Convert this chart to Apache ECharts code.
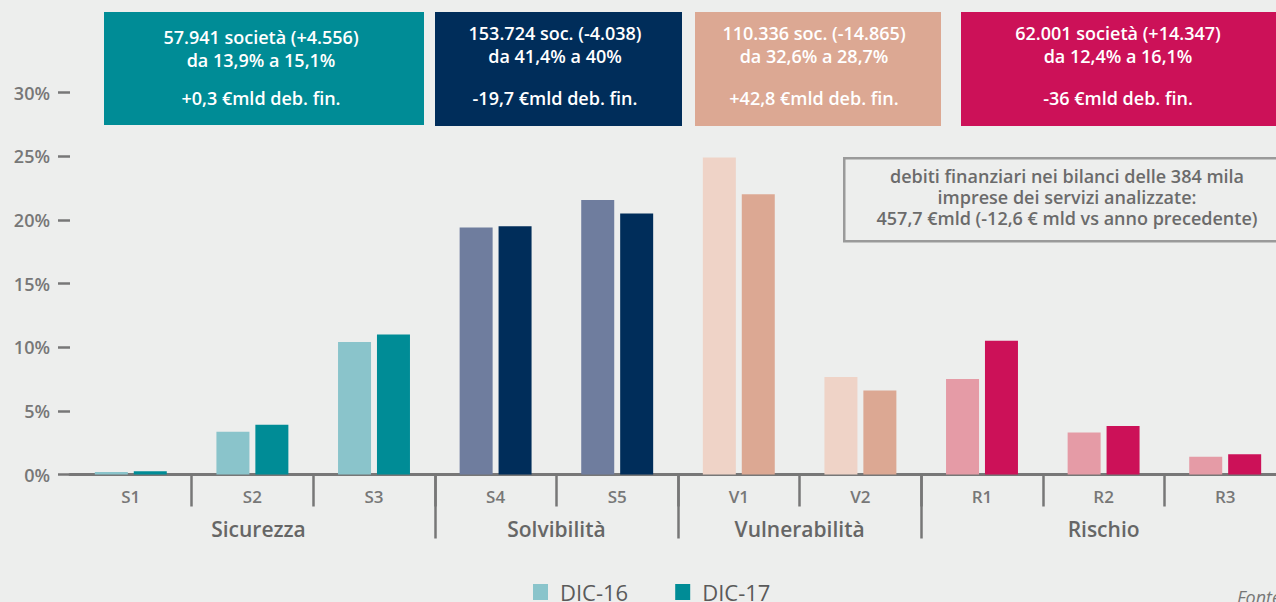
<!DOCTYPE html>
<html>
<head>
<meta charset="utf-8">
<script src="https://cdn.jsdelivr.net/npm/echarts@6/dist/echarts.min.js"></script>
<style>
  html, body { margin: 0; padding: 0; background: #edeeed; overflow: hidden; }
  /* il grafico originale esce leggermente dal bordo destro */
  #chart { width: 1290px; height: 602px; }
</style>
</head>
<body>
<div id="chart"></div>
<script>
// indicatori per categoria
const categories = ['S1', 'S2', 'S3', 'S4', 'S5', 'V1', 'V2', 'R1', 'R2', 'R3']
const dic16 = [0.2, 3.35, 10.4, 19.4, 21.55, 24.9, 7.65, 7.5, 3.3, 1.4]
const dic17 = [0.25, 3.9, 11.0, 19.5, 20.5, 22.0, 6.6, 10.5, 3.8, 1.6]

// gruppi (posizioni sull'asse 0..10)
const groupNames = ['Sicurezza', 'Solvibilità', 'Vulnerabilità', 'Rischio']
const groupOf = [0, 0, 0, 1, 1, 2, 2, 3, 3, 3]
const groupCenters = [1.55, 4, 6, 8.5]
const groupEdges = [3, 5, 7, 10]

const yTicks = [0, 5, 10, 15, 20, 25, 30]

// riquadri in alto
const boxHead = [
  ['57.941 società (+4.556)', 'da 13,9% a 15,1%'],
  ['153.724 soc. (-4.038)', 'da 41,4% a 40%'],
  ['110.336 soc. (-14.865)', 'da 32,6% a 28,7%'],
  ['62.001 società (+14.347)', 'da 12,4% a 16,1%']
]
const boxFoot = ['+0,3 €mld deb. fin.', '-19,7 €mld deb. fin.', '+42,8 €mld deb. fin.', '-36 €mld deb. fin.']
const noteText = [
  'debiti finanziari nei bilanci delle 384 mila',
  'imprese dei servizi analizzate:',
  '457,7 €mld (-12,6 € mld vs anno precedente)'
]

const lightColors = ['#8ac4cb', '#6f7d9e', '#efd3c7', '#e59ba6']
const darkColors = ['#008c96', '#002d5a', '#dca893', '#cc1158']
const boxRects = [[104, 12, 320, 113], [435, 12, 247, 114], [695, 12, 246, 114], [961, 12, 330, 114]]
const boxCx = [261, 555, 814, 1118]
const boxHeadY = [26, 22, 22, 22]
const boxFootY = 87

const FONT = '"Open Sans", "Noto Sans", sans-serif'
const chart = echarts.init(document.getElementById('chart'), null, { renderer: 'svg' })

const graphics = []
boxRects.forEach((r, i) => {
  graphics.push({
    type: 'rect', left: r[0], top: r[1], silent: true,
    shape: { width: r[2], height: r[3] },
    style: { fill: darkColors[i] }
  })
  graphics.push({
    type: 'text', silent: true, x: boxCx[i], y: boxHeadY[i],
    style: {
      text: boxHead[i].join('\n'), fill: '#fff', align: 'center',
      font: '600 18px ' + FONT, lineHeight: 22.5
    }
  })
  graphics.push({
    type: 'text', silent: true, x: boxCx[i], y: boxFootY,
    style: { text: boxFoot[i], fill: '#fff', align: 'center', font: '600 18px ' + FONT, lineHeight: 22 }
  })
})
graphics.push({
  type: 'rect', left: 843, top: 157, silent: true,
  shape: { width: 450, height: 83 },
  style: { fill: '#edeeed', stroke: '#9a9a9a', lineWidth: 2.5 }
})
noteText.forEach((t, i) => {
  graphics.push({
    type: 'text', silent: true, x: 1067, y: 166 + i * 21,
    style: { text: t, fill: '#6b6b6b', align: 'center', font: '600 18px ' + FONT, lineHeight: 20 }
  })
})
graphics.push({
  type: 'text', silent: true, x: 1237, y: 588,
  style: { text: 'Fonte: Cerved', fill: '#777', font: 'italic 18px ' + FONT }
})

chart.setOption({
  backgroundColor: '#edeeed',
  textStyle: { fontFamily: FONT },
  grid: { left: 70, right: 4, top: 92.5, bottom: 127.5, containLabel: false },
  legend: {
    left: 533, top: 581, padding: 0, itemWidth: 15, itemHeight: 16, itemGap: 47,
    icon: 'rect',
    textStyle: { fontSize: 22, color: '#5a5a5a', fontFamily: FONT, padding: [0, 0, 0, 7] },
    data: ['DIC-16', 'DIC-17']
  },
  xAxis: [
    {
      type: 'category', data: categories, position: 'bottom',
      axisLine: { lineStyle: { color: '#777', width: 3 } },
      axisTick: { show: true, length: 32, interval: (i) => i !== 0, lineStyle: { color: '#777', width: 2.5 } },
      axisLabel: { color: '#777', fontSize: 17, fontWeight: 600, margin: 13, fontFamily: FONT }
    },
    {
      type: 'value', min: 0, max: 10, position: 'bottom',
      axisLine: { show: false },
      splitLine: { show: false },
      axisTick: { show: true, customValues: groupEdges, length: 64, lineStyle: { color: '#777', width: 2.5 } },
      axisLabel: {
        customValues: groupCenters, color: '#666', fontSize: 21, fontWeight: 600, margin: 44,
        fontFamily: FONT,
        formatter: (v) => groupNames[groupCenters.indexOf(v)]
      }
    }
  ],
  yAxis: {
    type: 'value', min: 0, max: 30, interval: 5,
    axisLine: { show: false },
    splitLine: { show: false },
    axisTick: { show: true, length: 12, lineStyle: { color: '#777', width: 2.5 } },
    axisLabel: {
      color: '#777', fontSize: 18, fontWeight: 600, margin: 20, fontFamily: FONT,
      customValues: yTicks,
      formatter: '{value}%'
    }
  },
  series: [
    {
      name: 'DIC-16', type: 'bar', barWidth: 33, barGap: '18%',
      itemStyle: { color: lightColors[0] },
      data: dic16.map((v, i) => ({ value: v, itemStyle: { color: lightColors[groupOf[i]] } }))
    },
    {
      name: 'DIC-17', type: 'bar', barWidth: 33, barGap: '18%',
      itemStyle: { color: darkColors[0] },
      data: dic17.map((v, i) => ({ value: v, itemStyle: { color: darkColors[groupOf[i]] } }))
    }
  ],
  graphic: graphics
})
</script>
</body>
</html>
